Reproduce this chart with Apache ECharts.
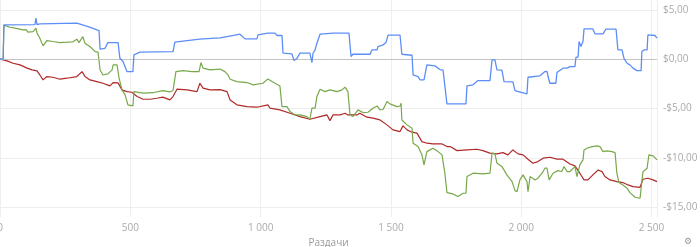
<!DOCTYPE html>
<html>
<head>
<meta charset="utf-8">
<script src="https://cdn.jsdelivr.net/npm/echarts@6/dist/echarts.min.js"></script>
<style>html,body{margin:0;padding:0;background:#fff}#c{width:700px;height:247px}</style>
</head>
<body>
<div id="c"></div>
<script>
const xTicks = [0, 500, 1000, 1500, 2000, 2500];
const yTicks = [-15, -10, -5, 0, 5];
const xName = 'Раздачи';
const yName = 'Выигрыш';

const blueHands = [0,12,15,134,138,142,153,295,299,338,372,380,384,403,414,453,460,472,487,510,514,537,664,671,718,767,844,871,921,940,986,990,1028,1055,1063,1082,1086,1120,1128,1140,1151,1189,1197,1201,1209,1216,1228,1278,1339,1347,1354,1420,1427,1447,1450,1470,1481,1489,1535,1542,1581,1585,1604,1612,1627,1638,1669,1688,1700,1715,1788,1792,1815,1834,1880,1888,1899,1907,1926,1934,1968,1976,2003,2022,2026,2072,2091,2099,2103,2110,2133,2137,2160,2176,2187,2206,2210,2218,2222,2229,2237,2241,2275,2283,2314,2325,2364,2371,2387,2394,2406,2417,2429,2444,2460,2463,2471,2483,2486,2513,2521];
const blueValues = [0,0,3.48,3.5,4.16,3.5,3.58,3.65,3.45,3.3,2.97,2.9,1.01,1.1,1.68,1.68,0.1,-0.24,-1.26,-1.26,0.44,0.71,0.77,1.72,1.89,2.03,2.15,2.29,2.53,2.06,2.06,2.46,2.64,2.64,2.4,2.4,0.61,0.54,-0.14,0.1,0.61,0.61,-0.34,0.6,0.94,1.62,2.53,2.64,2.64,0.27,0.5,0.5,0.94,0.94,1.28,1.45,1.68,2.43,2.43,0.5,0.4,-1.6,-1.76,-2.1,-2.1,-0.58,-0.68,-1.05,-1.1,-4.53,-4.53,-2.71,-2.6,-2.17,-2.17,-0.07,-0.07,-1.09,-1.1,-2.27,-2.3,-3.18,-3.38,-3.52,-1.83,-1.69,-1.26,-1.24,-1.76,-2.44,-2.44,-1.36,-0.91,-0.91,-0.75,-0.75,0.2,0.2,1.79,1.28,1.79,3.07,3.07,2.57,2.57,3.04,3.04,0.94,0.94,0.1,-0.41,-0.58,-0.91,-1.16,-1.16,0.77,0.94,0.94,2.46,2.4,2.13];

const greenHands = [0,12,15,19,38,58,88,100,107,127,138,142,153,165,180,203,230,257,280,295,303,318,326,345,365,376,384,395,414,430,434,449,457,468,480,491,510,514,549,587,625,652,664,675,702,737,764,771,779,806,844,863,875,883,909,948,971,1009,1028,1044,1074,1082,1101,1113,1132,1151,1178,1189,1197,1209,1216,1228,1247,1266,1293,1312,1324,1335,1343,1354,1374,1393,1412,1431,1447,1458,1470,1485,1496,1523,1535,1539,1542,1562,1581,1585,1604,1619,1627,1638,1661,1681,1696,1707,1715,1738,1757,1777,1788,1792,1815,1853,1880,1888,1899,1907,1926,1945,1965,1976,1984,1995,2007,2022,2026,2034,2053,2064,2080,2091,2099,2107,2122,2141,2156,2164,2176,2187,2206,2214,2225,2237,2241,2252,2272,2291,2302,2314,2329,2348,2360,2367,2375,2390,2406,2417,2437,2456,2463,2467,2475,2483,2490,2506,2521];
const greenValues = [0,0,3.45,3.45,3.24,3.14,2.97,3.0,2.74,2.8,3.14,2.64,2.13,1.35,1.89,1.79,1.68,1.72,1.76,2.03,1.68,2.29,1.62,1.28,0.77,0.71,-1.09,-1.6,-1.49,-1.09,-0.58,-0.58,-1.93,-3.11,-3.62,-4.63,-4.74,-3.29,-3.45,-3.4,-3.18,-3.32,-3.18,-1.26,-1.16,-1.26,-1.26,-0.34,-0.91,-1.09,-1.0,-1.26,-1.6,-2.03,-2.27,-2.37,-2.6,-2.44,-2.0,-2.27,-2.71,-4.81,-4.81,-5.31,-5.65,-5.65,-5.82,-6.09,-4.97,-4.97,-3.79,-3.04,-3.29,-3.11,-3.29,-3.11,-2.84,-3.29,-5.65,-5.82,-5.14,-5.41,-5.38,-4.97,-4.74,-5.14,-5.1,-4.3,-4.53,-4.81,-4.75,-4.46,-6.16,-6.66,-7.0,-8.52,-8.86,-9.7,-10.72,-9.37,-9.03,-9.37,-9.7,-11.56,-13.53,-13.66,-13.93,-13.59,-13.59,-11.9,-11.56,-11.63,-11.56,-9.53,-9.6,-10.55,-10.89,-11.73,-12.41,-13.33,-13.43,-12.24,-11.73,-12.41,-13.43,-11.9,-12.24,-12.07,-11.56,-11.05,-11.05,-12.24,-11.56,-11.3,-11.39,-10.89,-11.39,-11.39,-10.89,-11.9,-10.72,-10.21,-9.2,-9.03,-8.86,-8.79,-8.86,-9.37,-9.3,-9.37,-9.47,-11.56,-12.51,-12.75,-13.08,-13.53,-14.0,-14.1,-14.2,-11.4,-11.23,-11.05,-9.7,-9.81,-10.21];

const redHands = [0,27,50,77,104,123,142,153,165,180,203,230,257,295,315,326,345,372,395,422,434,453,468,487,506,526,549,576,602,625,652,664,679,718,756,767,779,806,844,871,883,909,948,986,1028,1036,1074,1113,1151,1189,1228,1255,1266,1278,1305,1324,1335,1370,1381,1408,1431,1458,1485,1508,1535,1546,1562,1581,1600,1619,1638,1661,1696,1715,1727,1754,1792,1830,1853,1880,1907,1930,1949,1968,1988,2007,2026,2045,2064,2084,2110,2137,2160,2187,2206,2225,2241,2256,2275,2295,2310,2321,2341,2367,2390,2410,2429,2456,2463,2467,2486,2506,2521];
const redValues = [0,-0.17,-0.41,-0.58,-0.91,-1.09,-1.19,-1.6,-2.1,-1.76,-1.83,-2.03,-1.93,-1.76,-1.26,-1.76,-2.1,-2.27,-2.44,-2.71,-2.37,-2.4,-3.11,-3.29,-3.35,-3.79,-4.06,-4.06,-3.96,-3.85,-4.13,-3.79,-3.04,-3.11,-3.29,-2.44,-2.94,-3.11,-3.08,-3.29,-4.13,-4.63,-4.81,-4.87,-4.63,-4.97,-5.14,-5.48,-5.82,-6.09,-5.82,-5.65,-6.23,-5.65,-5.65,-5.48,-5.65,-5.65,-5.48,-5.88,-5.98,-6.16,-6.66,-7.17,-7.34,-6.76,-7.17,-7.4,-7.5,-8.36,-8.52,-8.59,-8.59,-8.86,-8.86,-9.27,-9.2,-9.13,-9.27,-9.53,-9.6,-9.47,-9.7,-9.2,-9.6,-9.7,-10.14,-10.55,-10.38,-10.04,-9.94,-10.14,-10.14,-10.62,-10.82,-11.56,-12.24,-12.24,-11.73,-11.23,-11.4,-11.9,-12.24,-12.41,-12.51,-12.75,-12.92,-12.99,-13.09,-12.17,-12.07,-12.24,-12.41];

const pairs = (xs, ys) => xs.map((x, i) => [x, ys[i]]);
const fmtX = v => v >= 1000 ? Math.floor(v / 1000) + ' ' + String(v % 1000).padStart(3, '0') : String(v);
const fmtY = v => (v < 0 ? '-$' : '$') + Math.abs(v).toFixed(2).replace('.', ',');

const chart = echarts.init(document.getElementById('c'), null, {renderer: 'canvas'});
const font = '"Open Sans", "Noto Sans", sans-serif';
chart.setOption({
  animation: false,
  backgroundColor: '#fff',
  grid: {left: 0, right: 43, top: 0, bottom: 30, containLabel: false, outerBoundsMode: 'none'},
  xAxis: {
    type: 'value', min: 0, max: 2521, interval: 500,
    name: xName, nameLocation: 'middle', nameGap: 20,
    nameTextStyle: {color: '#999', fontSize: 10, fontFamily: font},
    axisLine: {show: true, lineStyle: {color: '#f0f0f0'}},
    axisTick: {show: false},
    axisLabel: {color: '#aaa', fontSize: 10, fontFamily: font, margin: 6, formatter: fmtX, hideOverlap: false},
    splitLine: {show: true, lineStyle: {color: '#eeeeee', width: 1}}
  },
  yAxis: {
    type: 'value', position: 'right', min: -16, max: 6,
    name: yName, nameLocation: 'middle', nameGap: 32, nameRotate: 90,
    nameTextStyle: {color: '#999', fontSize: 10, fontFamily: font},
    axisLine: {show: false},
    axisTick: {show: false, customValues: yTicks},
    axisLabel: {color: '#aaa', fontSize: 10, fontFamily: font, margin: 6, formatter: fmtY, customValues: yTicks},
    splitLine: {show: true, lineStyle: {color: '#eeeeee', width: 1}}
  },
  graphic: [{type: 'text', right: 8, bottom: 1, style: {text: '⚙', fill: '#999', fontSize: 9}}],
  series: [
    {type: 'line', data: pairs(redHands, redValues), showSymbol: false, symbol: 'none',
      lineStyle: {color: '#b02a2a', width: 1.2}, z: 3,
      markLine: {silent: true, symbol: 'none', label: {show: false},
        lineStyle: {color: '#c4c4c4', width: 1, type: 'solid'}, data: [{yAxis: 0}]}},
    {type: 'line', data: pairs(greenHands, greenValues), showSymbol: false, symbol: 'none',
      lineStyle: {color: '#78a84a', width: 1.2}, z: 4},
    {type: 'line', data: pairs(blueHands, blueValues), showSymbol: false, symbol: 'none',
      lineStyle: {color: '#5d8ef5', width: 1.3}, z: 5}
  ]
});
</script>
</body>
</html>
